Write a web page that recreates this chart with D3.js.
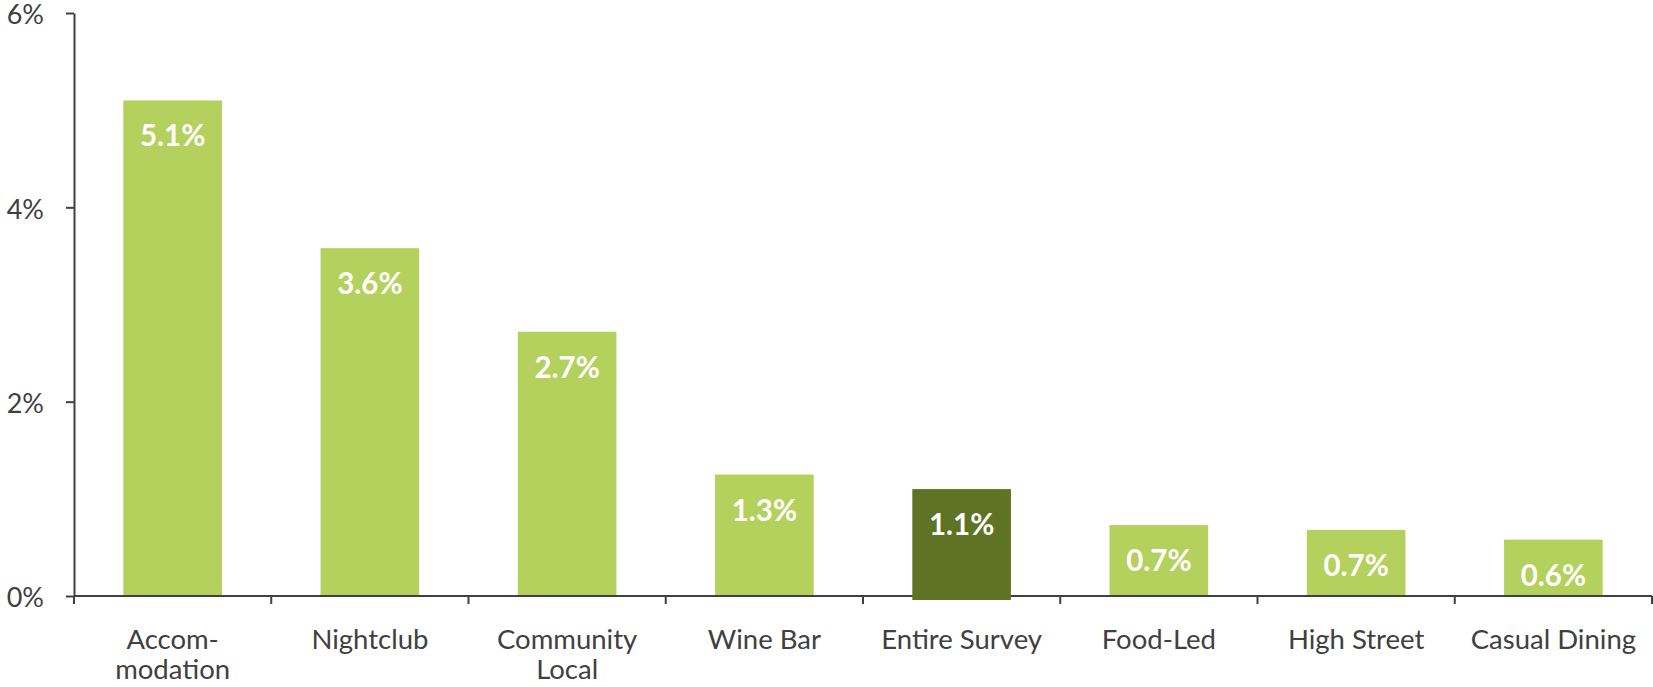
<!DOCTYPE html>
<html><head><meta charset="utf-8">
<script src="https://cdn.jsdelivr.net/npm/d3@7"></script>
<style>body{margin:0;background:#fff}svg{display:block}text{font-family:Lato,sans-serif}</style>
</head><body><svg id="c" width="1653" height="687"></svg>
<script>
const categories = [["Accom-","modation"],["Nightclub"],["Community","Local"],["Wine Bar"],["Entire Survey"],["Food-Led"],["High Street"],["Casual Dining"]];
const values = [5.1, 3.58, 2.72, 1.25, 1.1, 0.73, 0.68, 0.58];
const labels = ["5.1%","3.6%","2.7%","1.3%","1.1%","0.7%","0.7%","0.6%"];
const highlight = [false,false,false,false,true,false,false,false];
const yTicks = [0,2,4,6];
const yTickLabels = ["0%","2%","4%","6%"];

const m = {l:74, r:1, t:13, b:91};
const W = 1653, H = 687;
const svg = d3.select("#c");
const idx = d3.range(values.length);
const x = d3.scaleBand().domain(idx).range([m.l, W - m.r]).paddingInner(0.5).paddingOuter(0.25);
const y = d3.scaleLinear().domain([0, 6]).range([H - m.b, m.t]);
const axisColor = "#404040";
const light = "#b3d15c", dark = "#5e7424";

// light bars (under axis)
svg.append("g").selectAll("rect").data(idx.filter(i => !highlight[i])).join("rect")
  .attr("x", i => x(i)).attr("width", x.bandwidth())
  .attr("y", i => y(values[i])).attr("height", i => y(0) - y(values[i]))
  .attr("fill", light);

// y axis
const ya = svg.append("g").attr("transform", `translate(${m.l},0)`)
  .call(d3.axisLeft(y).tickValues(yTicks).tickFormat((d,i) => yTickLabels[i]).tickSize(8).tickSizeOuter(0).tickPadding(22));
ya.select(".domain").attr("stroke", axisColor).attr("stroke-width", 2);
ya.selectAll(".tick line").attr("stroke", axisColor).attr("stroke-width", 2);
ya.selectAll(".tick text").attr("fill", axisColor).style("font-size", "27px").style("font-family", "Lato").attr("dy", "0.4em");

// x axis: baseline and boundary ticks
const step = x.step();
const bounds = d3.range(values.length + 1).map(k => m.l + k * step);
const xa = svg.append("g");
xa.append("line").attr("x1", m.l).attr("x2", W - m.r).attr("y1", y(0)).attr("y2", y(0))
  .attr("stroke", axisColor).attr("stroke-width", 2);
xa.selectAll("line.t").data(bounds).join("line").attr("class","t")
  .attr("x1", d => d).attr("x2", d => d).attr("y1", y(0)).attr("y2", y(0) + 8)
  .attr("stroke", axisColor).attr("stroke-width", 2);
xa.selectAll("text").data(idx).join("text")
  .attr("x", i => x(i) + x.bandwidth()/2).attr("y", y(0) + 53)
  .attr("text-anchor", "middle").attr("fill", axisColor).style("font-size", "27.5px")
  .each(function(i){
    const t = d3.select(this);
    categories[i].forEach((s, k) => t.append("tspan").attr("x", x(i) + x.bandwidth()/2).attr("dy", k ? 30 : 0).text(s));
  });

// highlighted bar (over axis)
svg.append("g").selectAll("rect").data(idx.filter(i => highlight[i])).join("rect")
  .attr("x", i => x(i)).attr("width", x.bandwidth())
  .attr("y", i => y(values[i])).attr("height", i => y(0) - y(values[i]) + 4)
  .attr("fill", dark);

// value labels
svg.append("g").selectAll("text").data(idx).join("text")
  .attr("x", i => x(i) + x.bandwidth()/2).attr("y", i => y(values[i]) + 46)
  .attr("text-anchor", "middle").attr("fill", "#fff").style("font-size", "29.5px").style("font-weight", "bold")
  .text(i => labels[i]);
</script></body></html>
